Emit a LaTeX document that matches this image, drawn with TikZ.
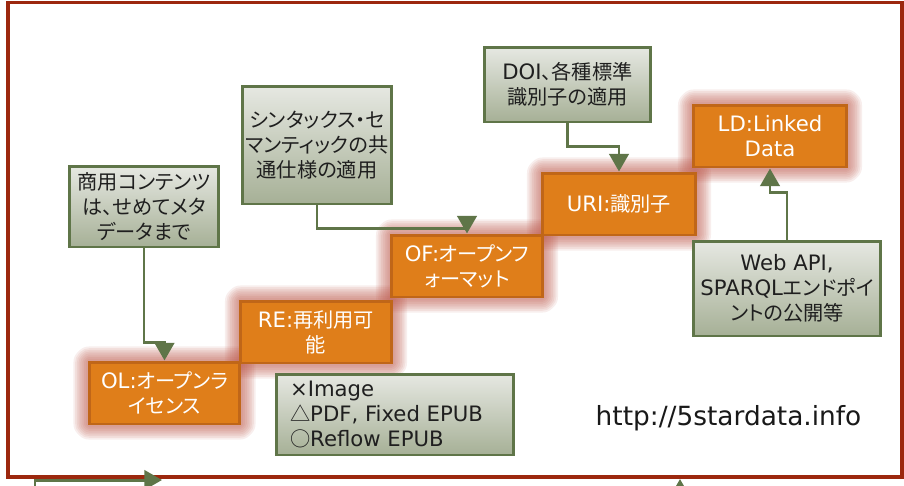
\documentclass[tikz,border=0pt]{standalone}
\usepackage{fontspec}
\setmainfont{Noto Sans CJK JP}[RawFeature=+palt]
\newfontfamily\lat{DejaVu Sans}[Scale=1.05]
\usetikzlibrary{arrows.meta, backgrounds}

\definecolor{framered}{RGB}{156,40,14}
\definecolor{leaf}{RGB}{95,117,72}
\definecolor{boxtop}{RGB}{230,232,226}
\definecolor{boxbot}{RGB}{166,176,150}
\definecolor{stepfill}{RGB}{223,126,26}
\definecolor{stepline}{RGB}{192,102,24}
\definecolor{glowred}{RGB}{192,92,80}

\begin{document}
\begin{tikzpicture}
            [x=0.02cm, y=-0.02cm, font=\fontsize{11.5}{14.2}\selectfont,
             note/.style={shape=rectangle, draw=leaf, line width=1.7pt, top color=boxtop,
                          bottom color=boxbot, text=black!88, align=center, inner sep=0pt},
             stair/.style={shape=rectangle, draw=stepline, line width=1.7pt, fill=stepfill,
                           text=white, align=center, inner sep=0pt,
                           minimum width=3.02cm, minimum height=1.24cm},
             glow/.style={draw=glowred, draw opacity=.1, line join=round, rounded corners=1pt},
             link/.style={draw=leaf, line width=1.7pt, -{Triangle[length=10pt, width=11pt]}}]
            \clip (0, 0) rectangle (904, 485);
            \draw[framered, line width=2pt] (8, 2.5) rectangle (902, 477);

            % steps
            \node[stair] (OL) at (164.5, 393) {{\lat OL:}オープンラ\\イセンス};
            \node[stair] (RE) at (316, 332) {{\lat RE:}再利用可\\能};
            \node[stair] (OF) at (467, 266) {{\lat OF:}オープンフ\\ォーマット};
            \node[stair, minimum width=3.06cm] (URI) at (619, 204) {{\lat URI:}識別子};
            \node[stair, minimum width=3.06cm] (LD) at (770, 136) {{\lat LD:Linked}\\{\lat Data}};

            % notes
            \node[note, minimum width=3cm, minimum height=1.62cm] (com) at (144, 206.5)
                {商用コンテンツ\\は、せめてメタ\\データまで};
            \node[note, minimum width=3cm, minimum height=2.36cm] (syn) at (317, 145)
                {シンタックス・セ\\マンティックの共\\通仕様の適用};
            \node[note, minimum width=3.34cm, minimum height=1.5cm] (doi) at (567.5, 84.5)
                {{\lat DOI}、各種標準\\識別子の適用};
            \node[note, minimum width=3.76cm, minimum height=1.9cm] (api) at (787, 288.5)
                {{\lat Web API,}\\{\lat SPARQL}エンドポイ\\ントの公開等};
            \node[note, align=left, text width=4.2cm, inner xsep=0.28cm, minimum height=1.62cm] (fmt) at (395, 414.5)
                {{\lat ×Image}\\△{\lat PDF, Fixed EPUB}\\○{\lat Reflow EPUB}};

            \node[font=\lat\fontsize{14.3}{18}\selectfont, text=black!90] (url) at (728.5, 418) {http://5stardata.info};

            \draw[link] (com.south) -- ++(0, 94) -| (OL.north);
            \draw[link] (syn.south) -- ++(0, 23) -| (OF.north);
            \draw[link] (doi.south) -- ++(0, 23) -| (URI.north);
            \draw[link] (api.north) -- ++(0, -47) -| (LD.south);

            % cut off at the lower edge
            \coordinate (tailL) at (35, 520);
            \coordinate (tipL) at (162, 480);
            \coordinate (tailR) at (680, 540);
            \coordinate (tipR) at (680, 479);
            \draw[link] (tailL) |- (tipL);
            \draw[link] (tailR) -- (tipR);

            \begin{scope}[on background layer]
                \fill[white] (0, 0) rectangle (904, 485);
                \foreach \n in {OL, RE, OF, URI, LD}
                    \foreach \w in {1, ..., 8}
                        \path[glow, line width=\w*2pt] (\n.north west) rectangle (\n.south east);
            \end{scope}
        \end{tikzpicture}
\end{document}
